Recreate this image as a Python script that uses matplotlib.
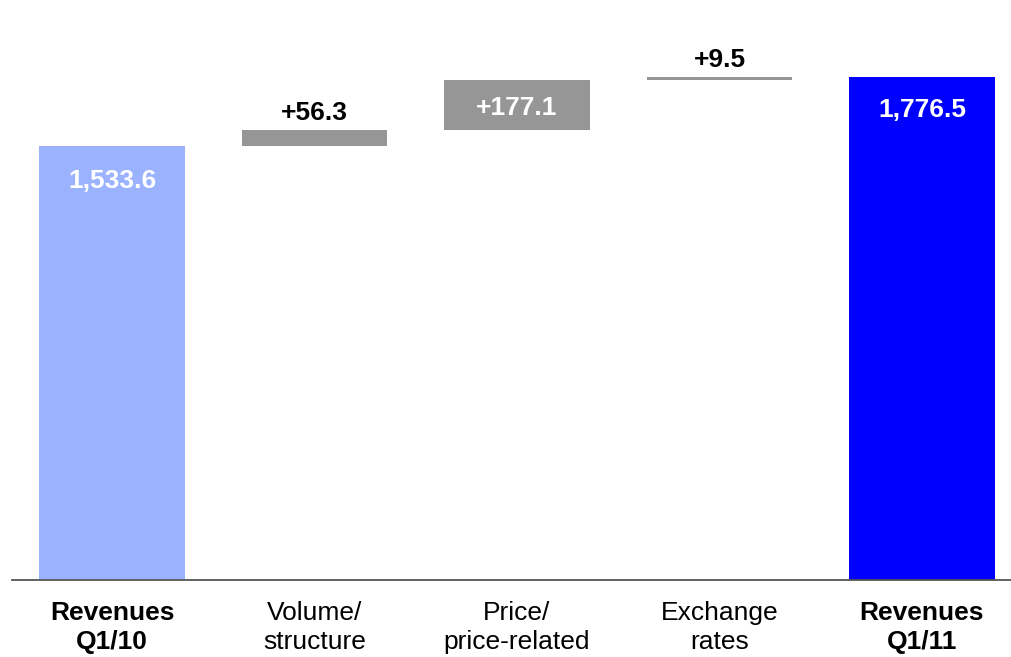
import matplotlib
matplotlib.use("Agg")
import matplotlib.pyplot as plt

plt.rcParams['font.family'] = ['Liberation Sans', 'DejaVu Sans']

# Data
categories = ["Revenues\nQ1/10", "Volume/\nstructure", "Price/\nprice-related", "Exchange\nrates", "Revenues\nQ1/11"]
start_value = 1533.6
changes = [56.3, 177.1, 9.5]
end_value = 1776.5
value_labels = ["1,533.6", "+56.3", "+177.1", "+9.5", "1,776.5"]

# Build waterfall bottoms / heights
bottoms = [0]
heights = [start_value]
running = start_value
for c in changes:
    bottoms.append(running)
    heights.append(c)
    running += c
bottoms.append(0)
heights.append(end_value)

colors = ["#9bb3ff", "#969696", "#969696", "#969696", "#0000ff"]
bold_cat = [True, False, False, False, True]

fig = plt.figure(figsize=(10.11, 6.57), dpi=100)
ax = fig.add_axes([12 / 1011, 77 / 657, 1 - 12 / 1011, 580 / 657])

x = list(range(len(categories)))
ax.bar(x, heights, bottom=bottoms, width=0.72, color=colors, linewidth=0)

ax.set_xlim(-0.494, 4.44)
ax.set_ylim(0, 2049)

for s in ["top", "right", "left"]:
    ax.spines[s].set_visible(False)
ax.spines["bottom"].set_color("#555555")
ax.spines["bottom"].set_linewidth(1.3)
ax.set_yticks([])
ax.set_xticks([])

fs = 19

# Value labels
for i in x:
    top = bottoms[i] + heights[i]
    if i in (0, 4):
        ax.annotate(value_labels[i], (i, top), xytext=(0, -25.5 if i == 0 else -23.5),
                    textcoords="offset points", ha="center", va="center",
                    color="white", fontsize=fs, fontweight="bold")
    elif heights[i] > 100:
        ax.annotate(value_labels[i], (i, bottoms[i] + heights[i] / 2), xytext=(0, -2),
                    textcoords="offset points", ha="center", va="center",
                    color="white", fontsize=fs, fontweight="bold")
    else:
        ax.annotate(value_labels[i], (i, top), xytext=(0, 12.5),
                    textcoords="offset points", ha="center", va="center",
                    color="black", fontsize=fs, fontweight="bold")

# Category labels
for i, lab in enumerate(categories):
    ax.annotate(lab, (i, 0), xytext=(0, -15), textcoords="offset points",
                ha="center", va="top", fontsize=fs, linespacing=1.28,
                fontweight="bold" if bold_cat[i] else "normal", color="black")

fig.savefig("out.png", dpi=100)
